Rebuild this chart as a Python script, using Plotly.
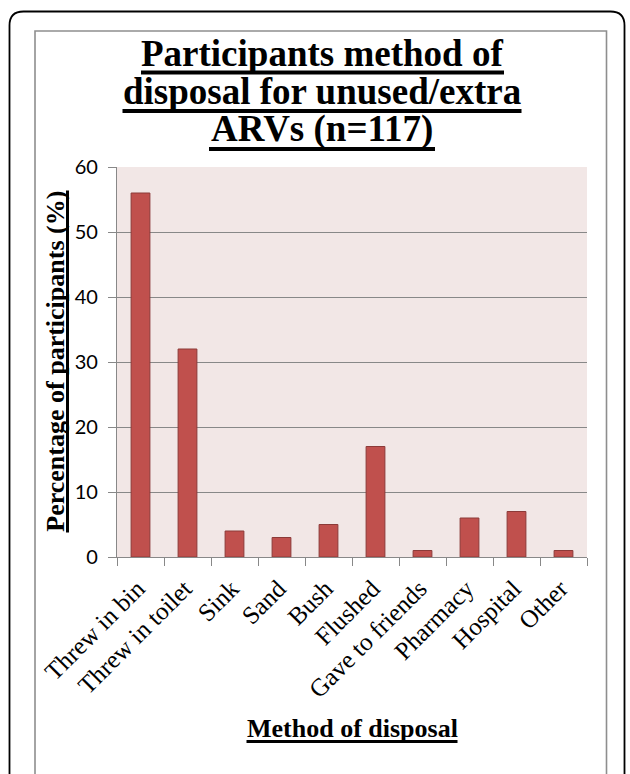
import plotly.graph_objects as go

# Disposal methods and share of participants (%)
methods = ["Threw in bin", "Threw in toilet", "Sink", "Sand", "Bush", "Flushed",
           "Gave to friends", "Pharmacy", "Hospital", "Other"]
percent = [56, 32, 4, 3, 5, 17, 1, 6, 7, 1]
y_ticks = [0, 10, 20, 30, 40, 50, 60]

title_lines = ["Participants method of", "disposal for unused/extra", "ARVs (n=117)"]
x_title = "Method of disposal"
y_title = "Percentage of participants (%)"

W, H = 630, 774
L, R, T, B = 117, 43, 167, 217
PW, PH = W - L - R, H - T - B


def px(x):
    return (x - L) / PW


def py(y):
    return (H - B - y) / PH


SERIF = "Liberation Serif"
GRID = "#888888"

fig = go.Figure(go.Bar(
    x=methods, y=percent,
    marker=dict(color="#C0504D", line=dict(color="#8C3A38", width=1)),
))

fig.update_layout(
    width=W, height=H,
    margin=dict(l=L, r=R, t=T, b=B, pad=0),
    paper_bgcolor="white",
    plot_bgcolor="#F2E7E6",
    bargap=0.6,
    showlegend=False,
)

fig.update_xaxes(
    type="category",
    tickson="boundaries",
    ticks="outside", ticklen=8, tickwidth=1.3, tickcolor=GRID,
    showline=True, linecolor=GRID, linewidth=1.3,
    showgrid=False,
    tickangle=-45,
    ticklabelstandoff=6,
    ticklabelshift=-3,
    tickfont=dict(family=SERIF, size=25, color="black"),
)
fig.update_yaxes(
    range=[0, 60], tickvals=y_ticks,
    ticks="outside", ticklen=8, tickwidth=1.3, tickcolor=GRID,
    showline=True, linecolor=GRID, linewidth=1.3,
    showgrid=True, gridcolor=GRID, gridwidth=1.3,
    zeroline=False,
    ticklabelstandoff=6,
    tickfont=dict(family="Lato", size=20, color="black"),
)

annotations = []
# three-line chart title, each line centred on the chart
title_font = dict(family=SERIF, size=37, color="black", weight="bold")
title_baselines = [66, 104, 142]
for line, base in zip(title_lines, title_baselines):
    annotations.append(dict(
        text=line, xref="paper", yref="paper",
        x=px(322), y=py(base - 12.5), xanchor="center", yanchor="middle",
        showarrow=False, font=title_font,
    ))

axis_font = dict(family=SERIF, size=26, color="black", weight="bold")
annotations.append(dict(
    text=x_title, xref="paper", yref="paper",
    x=px(352), y=py(737.7 - 8.8), xanchor="center", yanchor="middle",
    showarrow=False, font=axis_font,
))
annotations.append(dict(
    text=y_title, xref="paper", yref="paper", textangle=-90,
    x=px(64 - 8.8), y=py(361.5), xanchor="center", yanchor="middle",
    showarrow=False, font=axis_font,
))
fig.update_layout(annotations=annotations)

shapes = []


def hline(x0, x1, y, w):
    shapes.append(dict(type="line", xref="paper", yref="paper",
                       x0=px(x0), x1=px(x1), y0=py(y), y1=py(y),
                       line=dict(color="black", width=w)))


# underlines beneath the title lines and axis titles
hline(141, 504, 72.5, 4)
hline(122.5, 521.5, 111, 4)
hline(209, 435, 149, 4)
hline(246.5, 457.5, 741.5, 3)
shapes.append(dict(type="line", xref="paper", yref="paper",
                   x0=px(67.5), x1=px(67.5), y0=py(190.5), y1=py(532.5),
                   line=dict(color="black", width=3)))

# grey chart-area frame (runs past the bottom edge)
shapes.append(dict(type="path", xref="paper", yref="paper",
                   path=(f"M {px(35)},{py(800)} L {px(35)},{py(31)} "
                         f"L {px(606.5)},{py(31)} L {px(606.5)},{py(800)}"),
                   line=dict(color="#8E8E8E", width=1.6)))

# black rounded outer frame
lx, rx, ty, rad = 9.5, 624.5, 11.5, 14
shapes.append(dict(type="path", xref="paper", yref="paper",
                   path=(f"M {px(lx)},{py(800)} L {px(lx)},{py(ty + rad)} "
                         f"Q {px(lx)},{py(ty)} {px(lx + rad)},{py(ty)} "
                         f"L {px(rx - rad)},{py(ty)} "
                         f"Q {px(rx)},{py(ty)} {px(rx)},{py(ty + rad)} "
                         f"L {px(rx)},{py(800)}"),
                   line=dict(color="black", width=1.8)))
fig.update_layout(shapes=shapes)

fig.write_html("out.html")
